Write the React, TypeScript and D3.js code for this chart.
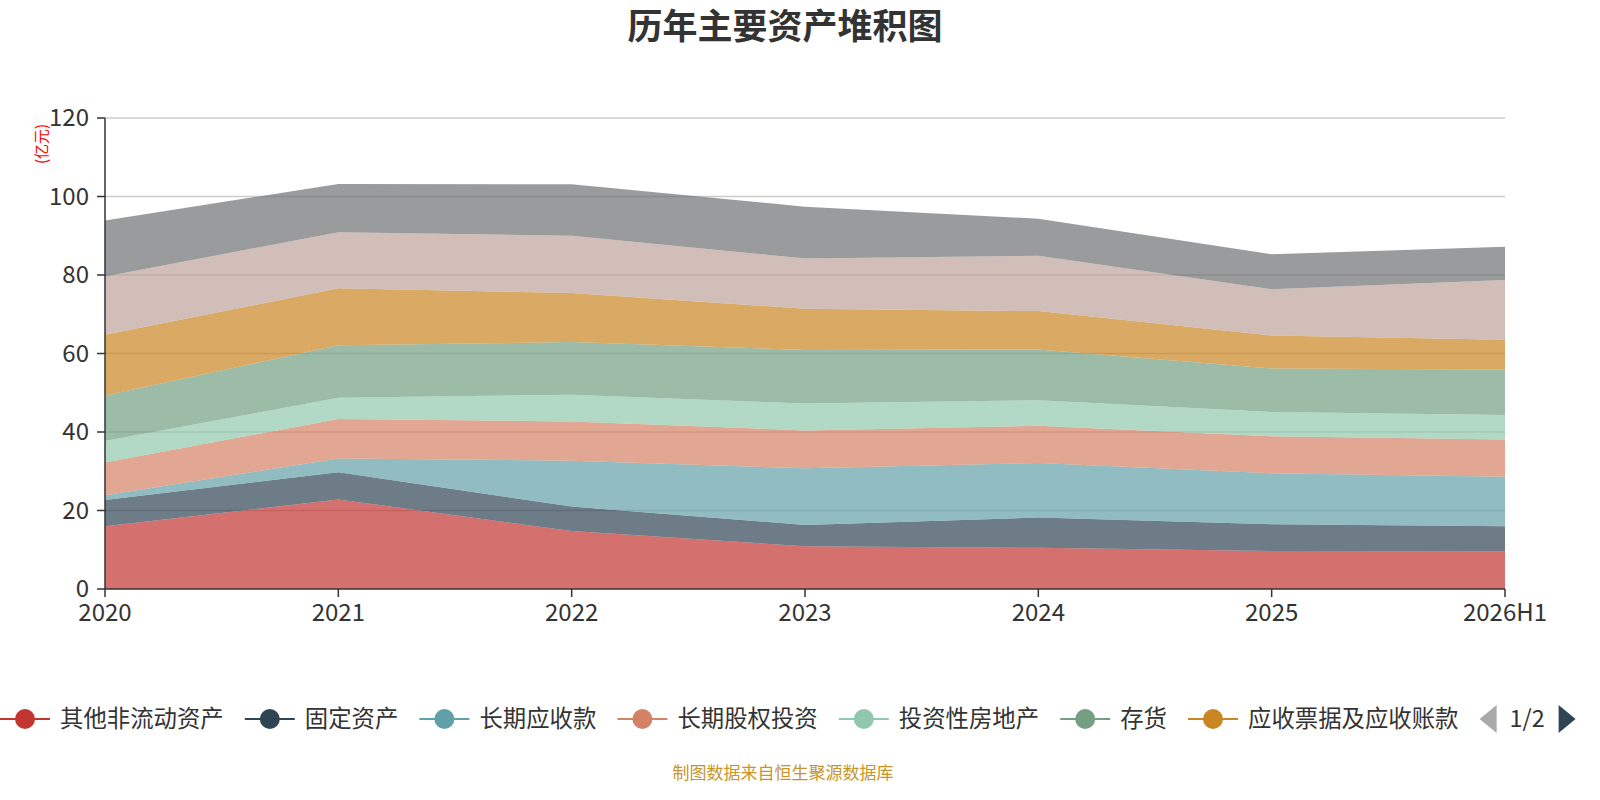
import React from "react";
import * as d3 from "d3";

const categories = ["2020", "2021", "2022", "2023", "2024", "2025", "2026H1"];
const seriesNames = [
  "其他非流动资产",
  "固定资产",
  "长期应收款",
  "长期股权投资",
  "投资性房地产",
  "存货",
  "应收票据及应收账款",
  "货币资金",
  "其他流动资产",
];
const seriesColors = [
  "#c23531",
  "#2f4554",
  "#61a0a8",
  "#d48265",
  "#91c7ae",
  "#749f83",
  "#ca8622",
  "#bda29a",
  "#6e7074",
];
const v0 = [16.0, 22.8, 14.75, 10.9, 10.5, 9.7, 9.6];
const v1 = [6.7, 6.95, 6.25, 5.4, 7.7, 6.8, 6.4];
const v2 = [1.2, 3.5, 11.7, 14.45, 13.9, 13.0, 12.6];
const v3 = [8.35, 10.05, 10.0, 9.65, 9.5, 9.4, 9.5];
const v4 = [5.45, 5.4, 6.8, 6.85, 6.5, 6.2, 6.2];
const v5 = [11.6, 13.4, 13.4, 13.65, 12.9, 11.1, 11.65];
const v6 = [15.45, 14.5, 12.5, 10.5, 9.8, 8.4, 7.55];
const v7 = [14.85, 14.3, 14.6, 12.8, 14.1, 11.8, 15.2];
const v8 = [14.3, 12.3, 13.1, 13.2, 9.45, 8.9, 8.5];
const seriesValues = [v0, v1, v2, v3, v4, v5, v6, v7, v8];
const yTicks = [0, 20, 40, 60, 80, 100, 120];
const legendCount = 7;

const FONT = "'Noto Sans CJK SC', 'Noto Sans', sans-serif";

export default function App() {
  const W = 1600;
  const H = 800;
  const left = 105;
  const right = 1505;
  const top = 118;
  const bottom = 589;

  const x = d3.scalePoint<string>().domain(categories).range([left, right]);
  const y = d3.scaleLinear().domain([0, 120]).range([bottom, top]);

  const rows = categories.map((c, i) => {
    const r: any = { cat: c };
    seriesNames.forEach((n, k) => (r[n] = seriesValues[k][i]));
    return r;
  });
  const stacked = d3.stack<any>().keys(seriesNames)(rows);
  const area = d3
    .area<any>()
    .x((d) => x(d.data.cat) as number)
    .y0((d) => y(d[0]))
    .y1((d) => y(d[1]));

  // legend layout
  const legendFont = 23.4;
  const legendY = 719;
  let cursor = 0;
  const legendItems = seriesNames.slice(0, legendCount).map((n, i) => {
    const item = { name: n, color: seriesColors[i], x: cursor };
    cursor += 50 + 10 + n.length * legendFont + 21;
    return item;
  });
  const pagerX = cursor;

  return (
    <svg width={W} height={H} style={{ position: "absolute", left: 0, top: 0, background: "#fff" }} fontFamily={FONT}>
      <text x={785} y={39} textAnchor="middle" fontSize={35} fontWeight="bold" fill="#333">
        历年主要资产堆积图
      </text>

      {/* grid lines */}
      {yTicks.map((t) =>
        t === 0 ? null : (
          <line key={"g" + t} x1={left} x2={right} y1={y(t)} y2={y(t)} stroke="#ccc" strokeWidth={1.5} />
        )
      )}

      {/* areas */}
      {stacked.map((s, i) => (
        <path key={s.key} d={area(s) as string} fill={seriesColors[i]} fillOpacity={0.7} />
      ))}

      {/* y axis */}
      <line x1={left} x2={left} y1={top} y2={bottom} stroke="#333" strokeWidth={1.5} />
      {yTicks.map((t) => (
        <g key={"y" + t}>
          <line x1={left - 8} x2={left} y1={y(t)} y2={y(t)} stroke="#333" strokeWidth={1.5} />
          <text x={left - 16} y={y(t)} dy="0.35em" textAnchor="end" fontSize={24} fill="#333">
            {t}
          </text>
        </g>
      ))}
      <text
        transform={`translate(47, 144) rotate(-90)`}
        textAnchor="middle"
        fontSize={15}
        fill="#ff0000"
      >
        (亿元)
      </text>

      {/* x axis */}
      <line x1={left} x2={right} y1={bottom} y2={bottom} stroke="#333" strokeWidth={1.5} />
      {categories.map((c) => (
        <g key={"x" + c}>
          <line x1={x(c)} x2={x(c)} y1={bottom} y2={bottom + 8} stroke="#333" strokeWidth={1.5} />
          <text x={x(c)} y={bottom + 32} textAnchor="middle" fontSize={24} fill="#333">
            {c}
          </text>
        </g>
      ))}

      {/* legend */}
      {legendItems.map((it) => (
        <g key={"l" + it.name}>
          <line x1={it.x} x2={it.x + 50} y1={legendY} y2={legendY} stroke={it.color} strokeWidth={2} />
          <circle cx={it.x + 25} cy={legendY} r={10} fill={it.color} />
          <text x={it.x + 60} y={legendY} dy="0.35em" fontSize={legendFont} fill="#333">
            {it.name}
          </text>
        </g>
      ))}
      <path
        d={`M${pagerX + 17},${legendY - 14} L${pagerX},${legendY} L${pagerX + 17},${legendY + 14} Z`}
        fill="#aaa"
      />
      <text x={pagerX + 30} y={legendY} dy="0.35em" fontSize={legendFont} fill="#333">
        1/2
      </text>
      <path
        d={`M${pagerX + 79},${legendY - 14} L${pagerX + 96},${legendY} L${pagerX + 79},${legendY + 14} Z`}
        fill="#2f4554"
      />

      <text x={783} y={779} textAnchor="middle" fontSize={17} fill="#c8952a">
        制图数据来自恒生聚源数据库
      </text>
    </svg>
  );
}
